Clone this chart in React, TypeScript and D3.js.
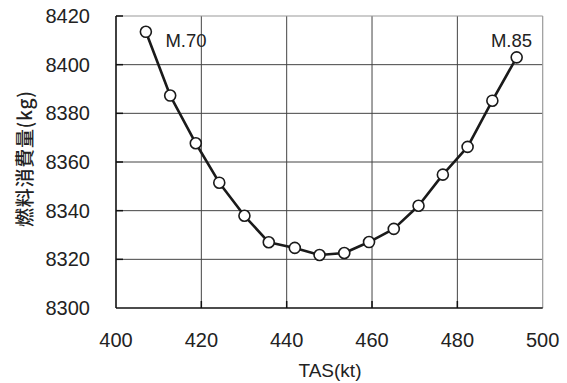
import React from "react";
import * as d3 from "d3";

const tas = [407.0, 412.7, 418.7, 424.2, 430.1, 435.8, 441.9, 447.7, 453.5, 459.3, 465.1, 470.9, 476.6, 482.4, 488.2, 493.9];
const fuel = [8413.5, 8387.3, 8367.7, 8351.5, 8337.9, 8327.0, 8324.7, 8321.8, 8322.6, 8327.1, 8332.5, 8342.0, 8354.8, 8366.2, 8385.2, 8403.0];
const xTicks = [400, 420, 440, 460, 480, 500];
const yTicks = [8300, 8320, 8340, 8360, 8380, 8400, 8420];
const labels = [
  { text: "M.70", idx: 0 },
  { text: "M.85", idx: 15 },
];
const xTitle = "TAS(kt)";
const yTitle = "燃料消費量(kg)";

const W = 567, H = 383;
const left = 116, right = 542.7, top = 16, bottom = 308;
const NUM = "'Liberation Sans', Arial, sans-serif";
const CJK = "'Noto Sans CJK JP', 'Noto Sans', sans-serif";

export default function App() {
  const x = d3.scaleLinear().domain([400, 500]).range([left, right]);
  const y = d3.scaleLinear().domain([8300, 8420]).range([bottom, top]);
  const pts = tas.map((t, i) => [t, fuel[i]] as [number, number]);
  const line = d3.line<[number, number]>().x(d => x(d[0])).y(d => y(d[1]));
  return (
    <svg width={W} height={H} style={{ position: "absolute", left: 0, top: 0, background: "#fff" }}>
      <rect x={0} y={0} width={W} height={H} fill="#fff" />
      {yTicks.slice(1, -1).map(v => (
        <line key={"hy" + v} x1={left} x2={right} y1={y(v)} y2={y(v)} stroke="#444" strokeWidth={1} />
      ))}
      {xTicks.slice(1, -1).map(v => (
        <line key={"vx" + v} x1={x(v)} x2={x(v)} y1={top} y2={bottom} stroke="#444" strokeWidth={1} />
      ))}
      <line x1={left} x2={right} y1={top} y2={top} stroke="#999" strokeWidth={1.2} />
      <line x1={right} x2={right} y1={top} y2={bottom} stroke="#999" strokeWidth={1.2} />
      {yTicks.slice(1).map(v => (
        <line key={"ty" + v} x1={left} x2={left + 7} y1={y(v)} y2={y(v)} stroke="#111" strokeWidth={1.5} />
      ))}
      {xTicks.slice(1, -1).map(v => (
        <line key={"tx" + v} x1={x(v)} x2={x(v)} y1={bottom} y2={bottom - 7} stroke="#111" strokeWidth={1.5} />
      ))}
      <line x1={left} x2={left} y1={top} y2={bottom} stroke="#111" strokeWidth={1.6} />
      <line x1={left} x2={right} y1={bottom} y2={bottom} stroke="#111" strokeWidth={1.6} />
      {yTicks.map(v => (
        <text key={"ly" + v} x={left - 26} y={y(v)} textAnchor="end" dominantBaseline="central"
          fontFamily={NUM} fontSize={20} fill="#222">{v}</text>
      ))}
      {xTicks.map(v => (
        <text key={"lx" + v} x={x(v)} y={340} textAnchor="middle" dominantBaseline="central"
          fontFamily={NUM} fontSize={20} fill="#222">{v}</text>
      ))}
      <text x={330} y={370} textAnchor="middle" dominantBaseline="central" fontFamily={NUM} fontSize={19} fill="#222">{xTitle}</text>
      <text transform={`translate(23,${159}) rotate(-90)`} textAnchor="middle" dominantBaseline="central"
        fontFamily={CJK} fontSize={19} fontWeight={500} fill="#222" textLength={136} lengthAdjust="spacing">{yTitle}</text>
      <path d={line(pts) || ""} fill="none" stroke="#1a1a1a" strokeWidth={2.6} strokeLinejoin="round" />
      {pts.map((p, i) => (
        <circle key={"c" + i} cx={x(p[0])} cy={y(p[1])} r={5.5} fill="#fff" stroke="#1a1a1a" strokeWidth={1.6} />
      ))}
      <text x={186} y={40} textAnchor="middle" dominantBaseline="central"
        fontFamily={NUM} fontSize={18.5} fill="#222">{labels[0].text}</text>
      <text x={511.5} y={40} textAnchor="middle" dominantBaseline="central"
        fontFamily={NUM} fontSize={18.5} fill="#222">{labels[1].text}</text>
    </svg>
  );
}
